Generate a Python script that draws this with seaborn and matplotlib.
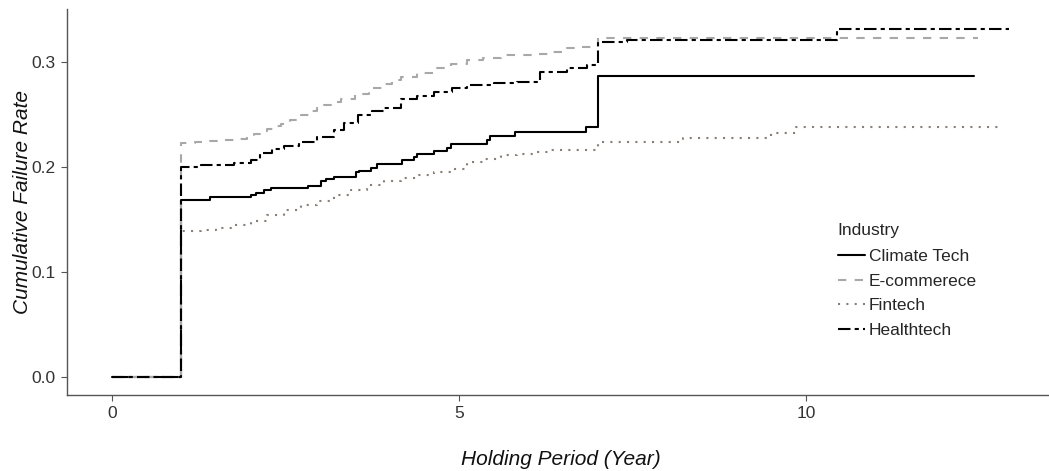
import matplotlib
matplotlib.use("Agg")
import matplotlib.pyplot as plt
import seaborn as sns
import pandas as pd

# ---- data ----
industries = ["Climate Tech", "E-commerece", "Fintech", "Healthtech"]

climate_t = [0, 1.0, 1.41, 2.01, 2.07, 2.19, 2.29, 2.83, 3.01, 3.08, 3.20, 3.51, 3.56,
             3.73, 3.82, 4.18, 4.35, 4.40, 4.64, 4.83, 4.88, 5.40, 5.44, 5.81, 6.83,
             7.0, 12.42]
climate_v = [0, 0.169, 0.172, 0.174, 0.1755, 0.178, 0.180, 0.182, 0.187, 0.189, 0.191,
             0.195, 0.1965, 0.199, 0.2035, 0.207, 0.210, 0.213, 0.2155, 0.2185, 0.222,
             0.226, 0.2295, 0.233, 0.238, 0.287, 0.287]

ecom_t = [0, 1.0, 1.2, 1.42, 1.6, 1.81, 1.95, 2.05, 2.15, 2.24, 2.33, 2.43, 2.57, 2.72,
          2.85, 2.96, 3.05, 3.15, 3.3, 3.5, 3.7, 3.9, 4.03, 4.16, 4.4, 4.64, 4.88, 5.12,
          5.35, 5.6, 5.85, 6.08, 6.3, 6.56, 6.75, 7.0, 12.47]
ecom_v = [0, 0.223, 0.224, 0.225, 0.226, 0.227, 0.229, 0.232, 0.234, 0.236, 0.239,
          0.2415, 0.245, 0.2495, 0.253, 0.256, 0.259, 0.262, 0.265, 0.270, 0.275, 0.279,
          0.283, 0.286, 0.290, 0.294, 0.298, 0.302, 0.304, 0.3065, 0.307, 0.308, 0.310,
          0.313, 0.3146, 0.323, 0.323]

fin_t = [0, 1.0, 1.28, 1.5, 1.76, 2.0, 2.24, 2.48, 2.72, 2.96, 3.2, 3.44, 3.68, 3.92,
         4.16, 4.4, 4.64, 4.88, 5.12, 5.36, 5.6, 5.84, 6.08, 6.32, 7.0, 8.23, 9.50, 9.86,
         12.8]
fin_v = [0, 0.139, 0.140, 0.142, 0.1448, 0.149, 0.1543, 0.159, 0.1638, 0.168, 0.1733,
         0.178, 0.1829, 0.187, 0.190, 0.193, 0.1955, 0.1987, 0.205, 0.208, 0.2114, 0.213,
         0.2146, 0.2168, 0.224, 0.2273, 0.2327, 0.2384, 0.2384]

health_t = [0, 1.0, 1.28, 1.76, 2.0, 2.14, 2.3, 2.48, 2.7, 2.96, 3.2, 3.35, 3.54, 3.75,
            3.92, 4.16, 4.4, 4.64, 4.9, 5.12, 5.5, 5.84, 6.17, 6.56, 6.85, 7.0, 7.42,
            10.44, 12.92]
health_v = [0, 0.2003, 0.2019, 0.204, 0.2067, 0.2136, 0.217, 0.220, 0.224, 0.2289,
            0.2352, 0.242, 0.2495, 0.253, 0.2559, 0.2646, 0.268, 0.2717, 0.275, 0.278,
            0.280, 0.2813, 0.2908, 0.294, 0.297, 0.3194, 0.321, 0.3316, 0.3316]

x_ticks = [0, 5, 10]
y_ticks = [0.0, 0.1, 0.2, 0.3]
y_ticklabels = ["0.0", "0.1", "0.2", "0.3"]

frames = []
for name, t, v in zip(industries, [climate_t, ecom_t, fin_t, health_t],
                      [climate_v, ecom_v, fin_v, health_v]):
    frames.append(pd.DataFrame({"time": t, "rate": v, "Industry": name}))
df = pd.concat(frames, ignore_index=True)

palette = {"Climate Tech": "#000000", "E-commerece": "#a8a8a8",
           "Fintech": "#8a7f76", "Healthtech": "#000000"}
dashes = {"Climate Tech": "", "E-commerece": (4, 4),
          "Fintech": (1, 3), "Healthtech": (6, 2, 2, 2)}

sns.set_theme(style="white")
plt.rcParams["font.family"] = ["Liberation Sans", "DejaVu Sans"]

fig = plt.figure(figsize=(10.49, 4.71), dpi=100)
ax = fig.add_axes([67 / 1049, 1 - 395 / 471, (1054 - 67) / 1049, (395 - 9.5) / 471])

sns.lineplot(data=df, x="time", y="rate", hue="Industry", style="Industry",
             palette=palette, dashes=dashes, hue_order=industries,
             style_order=industries, estimator=None, sort=False,
             drawstyle="steps-post", linewidth=1.5, ax=ax, legend="full")

ax.set_xlim(-0.646, 13.57)
ax.set_ylim(-0.0167, 0.35)
ax.set_xticks(x_ticks)
ax.set_xticklabels([str(x) for x in x_ticks])
ax.set_yticks(y_ticks)
ax.set_yticklabels(y_ticklabels)

for s in ["top", "right"]:
    ax.spines[s].set_visible(False)
for s in ["left", "bottom"]:
    ax.spines[s].set_color("#555555")
    ax.spines[s].set_linewidth(1.0)
ax.tick_params(axis="both", which="both", length=4, width=0.8, color="#555555",
               labelsize=12.5, labelcolor="#333333", pad=4, bottom=True, left=True)
ax.grid(False)

ax.set_xlabel("Holding Period (Year)", fontsize=15, style="italic", labelpad=21, color="#111111")
ax.set_ylabel("Cumulative Failure Rate", fontsize=15, style="italic", labelpad=0, color="#111111")

handles, labels = ax.get_legend_handles_labels()
leg = ax.legend(handles, labels, title="Industry", frameon=False, fontsize=12.5,
                title_fontsize=12.5, loc="upper left",
                bbox_to_anchor=(829 / 1049, 1 - 214 / 471),
                bbox_transform=fig.transFigure, handlelength=1.6,
                handletextpad=0.2, labelspacing=0.55, borderpad=0,
                alignment="left")
leg._legend_box.sep = 8
for line in leg.get_lines():
    line.set_linewidth(1.5)

fig.savefig("out.png", dpi=100)
